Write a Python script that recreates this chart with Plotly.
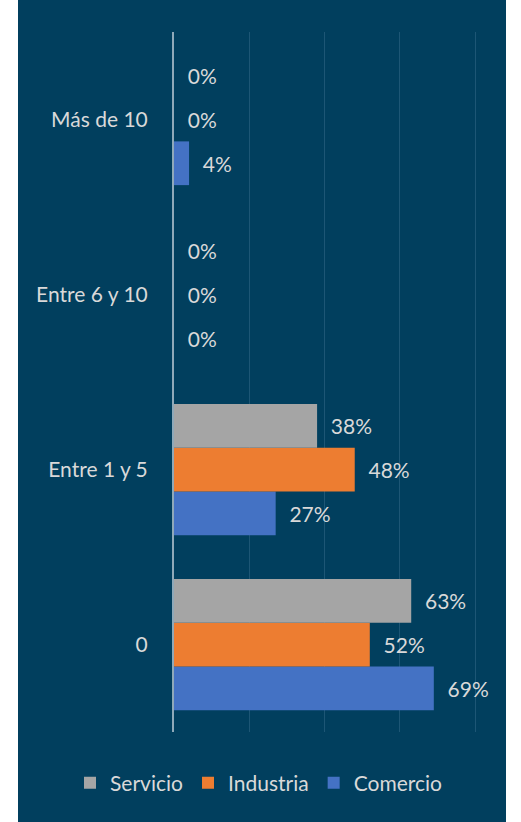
import plotly.graph_objects as go

categories = ["0", "Entre 1 y 5", "Entre 6 y 10", "Más de 10"]
servicio = [0.63, 0.38, 0.0, 0.0]
industria = [0.52, 0.48, 0.0, 0.0]
comercio = [0.69, 0.27, 0.0, 0.04]

series = [
    ("Comercio", comercio, "#4472C4"),
    ("Industria", industria, "#ED7D31"),
    ("Servicio", servicio, "#A5A5A5"),
]

NAVY = "#013F5E"
TXT = "#D9D9D9"
FONT = "Lato"

fig = go.Figure()
for name, vals, col in series:
    fig.add_trace(go.Bar(
        name=name, y=categories, x=vals, orientation="h",
        marker=dict(color=col, line=dict(width=0)),
        texttemplate="\u00a0\u00a0%{x:.0%}", textposition="outside",
        textfont=dict(color=TXT, size=21, family=FONT),
        cliponaxis=False, constraintext="none",
    ))

W, H = 521, 822
L, R, T, B = 174, 42, 32, 90
pw, ph = W - L - R, H - T - B

fig.update_layout(
    width=W, height=H, autosize=False,
    margin=dict(l=L, r=R, t=T, b=B, pad=0, autoexpand=False),
    paper_bgcolor="white", plot_bgcolor=NAVY,
    barmode="group", bargap=0.25, bargroupgap=0,
    font=dict(family=FONT, color=TXT, size=21),
    showlegend=True,
    legend=dict(orientation="h", traceorder="reversed",
                x=(70 - L) / pw, xanchor="left",
                y=-(783 - (H - B)) / ph, yanchor="middle",
                font=dict(size=21, color=TXT, family=FONT),
                bgcolor="rgba(0,0,0,0)", itemsizing="constant",
                itemwidth=30, tracegroupgap=0),
    xaxis=dict(range=[0, 0.81], dtick=0.2, showticklabels=False,
               showgrid=True, gridcolor="#1D5675", gridwidth=1,
               zeroline=False, showline=False, fixedrange=True),
    yaxis=dict(showline=True, linecolor="#8FA9B9", linewidth=2,
               showgrid=False, zeroline=False, ticks="",
               ticklabelstandoff=20, fixedrange=True,
               tickfont=dict(size=21, color=TXT, family=FONT)),
    shapes=[dict(type="rect", xref="paper", yref="paper", layer="below",
                 x0=(18 - L) / pw, x1=(506 - L) / pw,
                 y0=-(H - (H - B)) / ph - 0.01, y1=1 + T / ph + 0.01,
                 fillcolor=NAVY, line=dict(width=0))],
)

fig.write_html("out.html", config={"displayModeBar": False},
               post_script="document.body.style.margin='0';document.body.style.overflow='hidden';")
